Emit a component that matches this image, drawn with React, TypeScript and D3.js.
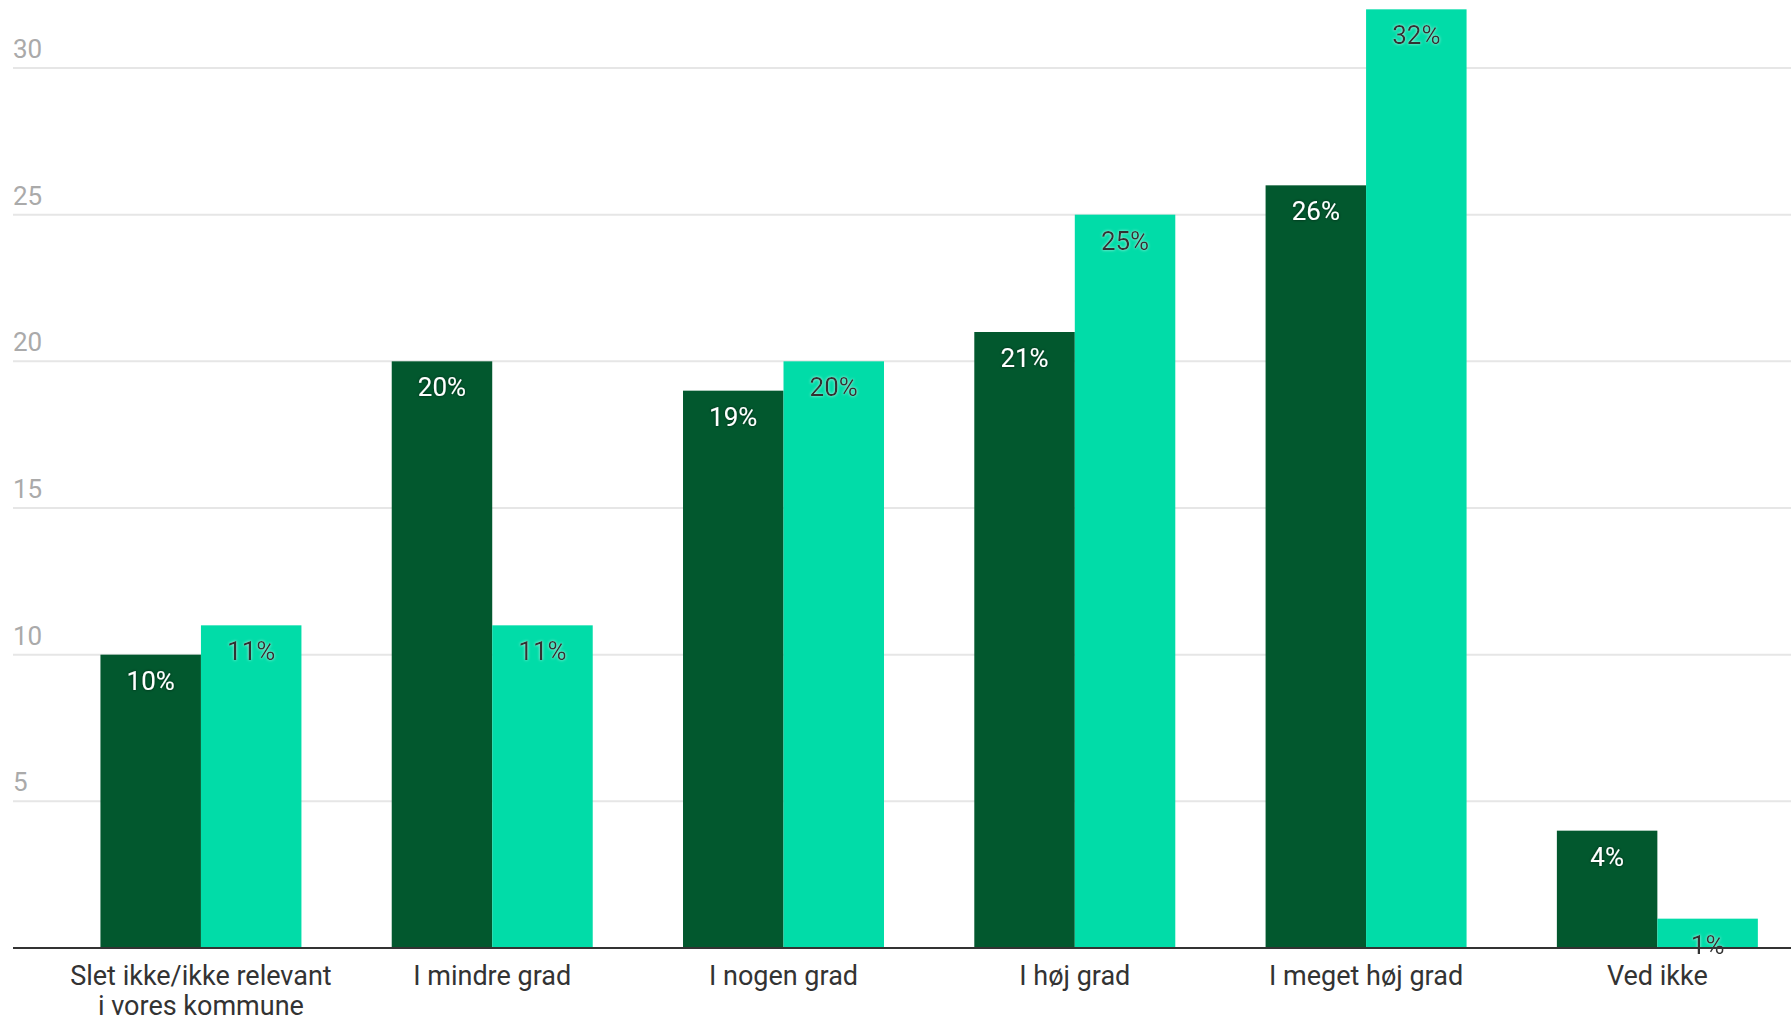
import React, { useEffect, useRef } from "react";
import * as d3 from "d3";

const categories = [
  ["Slet ikke/ikke relevant", "i vores kommune"],
  ["I mindre grad"],
  ["I nogen grad"],
  ["I høj grad"],
  ["I meget høj grad"],
  ["Ved ikke"],
];
const seriesA = [10, 20, 19, 21, 26, 4];
const seriesB = [11, 11, 20, 25, 32, 1];
const yTicks = [5, 10, 15, 20, 25, 30];

const W = 1791;
const H = 1018;

export default function App() {
  const ref = useRef<SVGSVGElement>(null);
  useEffect(() => {
    const svg = d3.select(ref.current);
    svg.selectAll("*").remove();
    const y = d3.scaleLinear().domain([0, 30]).range([948, 68]);
    const keys = categories.map((c) => c.join(" "));
    const x = d3.scaleBand<string>().domain(keys).range([55.3, 1803]).paddingInner(0.31).paddingOuter(0.155);
    const x1 = d3.scaleBand<string>().domain(["a", "b"]).range([0, x.bandwidth()]);

    const defs = svg.append("defs");
    const f1 = defs.append("filter").attr("id", "shDark").attr("x", "-20%").attr("y", "-30%").attr("width", "140%").attr("height", "160%");
    f1.append("feDropShadow").attr("dx", 0).attr("dy", 0).attr("stdDeviation", 1.5).attr("flood-color", "#000").attr("flood-opacity", 0.6);
    const f2 = defs.append("filter").attr("id", "shLight").attr("x", "-20%").attr("y", "-30%").attr("width", "140%").attr("height", "160%");
    f2.append("feDropShadow").attr("dx", 0).attr("dy", 0).attr("stdDeviation", 1.5).attr("flood-color", "#fff").attr("flood-opacity", 0.7);

    const g = svg.append("g");
    // gridlines
    g.selectAll("line.grid")
      .data(yTicks)
      .join("line")
      .attr("x1", 13)
      .attr("x2", W)
      .attr("y1", (d) => y(d))
      .attr("y2", (d) => y(d))
      .attr("stroke", "#e6e6e6")
      .attr("stroke-width", 2);
    g.selectAll("text.tick")
      .data(yTicks)
      .join("text")
      .attr("x", 13)
      .attr("y", (d) => y(d) - 10)
      .attr("fill", "#aaaaaa")
      .attr("font-size", 26)
      .attr("font-family", "Roboto")
      .text((d) => String(d));

    const rows = keys.map((k, i) => ({ k, a: seriesA[i], b: seriesB[i] }));
    const groups = g.selectAll("g.grp").data(rows).join("g").attr("transform", (d) => `translate(${x(d.k)},0)`);
    const bars = groups.selectAll("g.bar").data((d) => [
      { s: "a", v: d.a },
      { s: "b", v: d.b },
    ]).join("g");
    bars.append("rect")
      .attr("x", (d) => x1(d.s)!)
      .attr("width", x1.bandwidth())
      .attr("y", (d) => y(d.v))
      .attr("height", (d) => y(0) - y(d.v))
      .attr("fill", (d) => (d.s === "a" ? "#02582e" : "#01dca8"));
    bars.append("text")
      .attr("x", (d) => x1(d.s)! + x1.bandwidth() / 2)
      .attr("y", (d) => y(d.v) + 35)
      .attr("text-anchor", "middle")
      .attr("font-size", 26)
      .attr("font-family", "Roboto")
      .attr("fill", (d) => (d.s === "a" ? "#ffffff" : "#333333"))
      .attr("filter", (d) => (d.s === "a" ? "url(#shDark)" : "url(#shLight)"))
      .text((d) => `${d.v}%`);

    // baseline
    g.append("line").attr("x1", 13).attr("x2", W).attr("y1", y(0)).attr("y2", y(0)).attr("stroke", "#333").attr("stroke-width", 2);

    // category labels
    categories.forEach((lines, i) => {
      const t = g.append("text")
        .attr("x", x(keys[i])! + x.bandwidth() / 2)
        .attr("y", 985)
        .attr("text-anchor", "middle")
        .attr("font-size", 27)
        .attr("font-family", "Roboto")
        .attr("fill", "#333333");
      lines.forEach((l, j) => {
        t.append("tspan").attr("x", x(keys[i])! + x.bandwidth() / 2).attr("dy", j === 0 ? 0 : 30).text(l);
      });
    });
  }, []);
  return (
    <div style={{ position: "absolute", left: 0, top: 0 }}>
      <svg ref={ref} width={W} height={H} style={{ display: "block", background: "#fff" }} />
    </div>
  );
}
